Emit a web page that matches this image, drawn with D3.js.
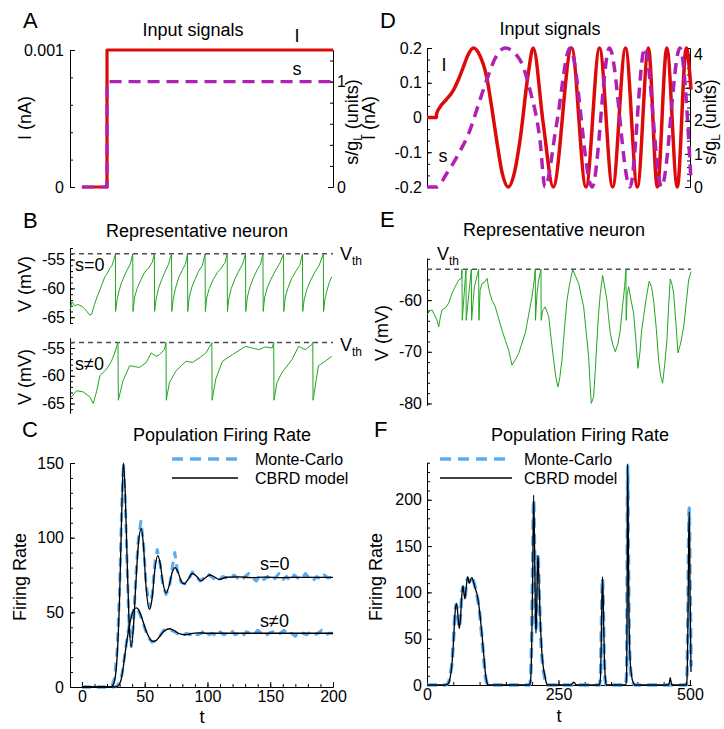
<!DOCTYPE html>
<html>
<head>
<meta charset="utf-8">
<script src="https://cdn.jsdelivr.net/npm/d3@7"></script>
<style>
  body { margin: 0; background: #fff; }
  svg text { font-family: "Liberation Sans", Arial, Helvetica, sans-serif; fill: #000; }
</style>
</head>
<body>
<svg id="fig" width="724" height="729"></svg>
<script>
// ---------------- data ----------------
// A: step input
const stepT = [0, 20, 20, 200];
const stepI = [0, 0, 0.001, 0.001];
const stepS = [0, 0, 1, 1];

// D: chirp input, [t, value]
const chirpI = [[0,0],[18,0],[18.1,0.01],[24.7,0.03],[37,0.052],[50,0.078],[60,0.11],[69,0.145],[78,0.18],[88,0.2],
  [100,0.18],[113.5,0.116],[123,0.03],[132.5,-0.066],[143,-0.16],[154.6,-0.2],[166,-0.16],[176.8,-0.066],[192.6,0.127],
  [202,0.2],[221,-0.017],[240,-0.2],[275,0.2],[302.3,-0.2],[328,0.2],[353,-0.2],[377.5,0.2],[400,-0.2],[421,0.2],
  [438,-0.2],[456,0.2],[476,-0.2],[493,0.2],[502,0.08]];
const chirpS = [[0,0],[18.4,0],[37.5,0.41],[60,1.0],[81.7,1.72],[100,2.6],[113.5,3.23],[130,3.9],[148.3,4.2],
  [176.8,3.84],[195.8,2.93],[214.8,1.42],[224.3,0],[246.6,1.92],[272,4.2],[314,0],[347,4.2],[386,0],[414,4.2],
  [446,0],[481,4.2],[502,0.2]];

// B: representative neuron, step input, [t, V]
const neuronS0 = [[-9.5,-63.8],[-8,-62.3],[-6,-63],[-3,-62.8],[0,-63.1],[2,-63.5],[4,-64],[6,-64.6],[7.7,-64.5],[10,-62.8],
  [12,-61.5],[14.3,-60.3],[16,-59.3],[18.2,-58],[20,-57.5],[22.2,-56.5],[24,-56],[25.5,-55],[26.7,-54],
  [26.8,-64],[28,-62],[29.5,-60.5],[31.5,-59],[33.5,-58],[36,-56.8],[38.5,-55.8],[40.5,-54],
  [40.7,-64],[42,-61.5],[44,-60],[47,-58.5],[50,-57.2],[53,-56.5],[56,-55.5],[57.7,-54],
  [57.9,-64],[59,-62],[61,-60],[63.5,-58.5],[66,-57.2],[69,-55.8],[71.4,-54],
  [71.6,-64],[72.8,-61.8],[74.5,-60],[77,-58.2],[80,-56.8],[82.5,-55.8],[84.1,-54],
  [84.3,-64],[85.5,-61.5],[87.5,-59.8],[90,-58.5],[93,-57],[96,-56],[98.1,-54],
  [98.3,-64],[99.5,-61.5],[101.5,-60],[104.5,-58.5],[108,-57.2],[111,-56.5],[114,-55.5],[115.7,-54],
  [115.9,-64],[117,-61.8],[119,-60],[122,-58.3],[125,-57],[128,-55.8],[130.3,-54],
  [130.5,-64],[131.8,-61.5],[133.8,-59.8],[136.5,-58.2],[139.5,-56.8],[142.3,-55.8],[144.2,-54],
  [144.4,-64],[145.6,-61.5],[147.8,-59.8],[151,-58.2],[154.5,-56.8],[158,-55.5],[160.6,-54],
  [160.8,-64],[162,-61.5],[164,-60],[167,-58.3],[170.5,-57],[173.5,-56],[175.7,-54],
  [175.9,-64],[177,-62],[179,-60.3],[182,-58.7],[185.5,-57.2],[189,-56],[192.3,-54],
  [192.5,-64],[193.5,-62],[195,-60.5],[197,-59],[199,-58]];
const neuronSn = [[-9.5,-64.1],[-4.2,-62.7],[1,-62.9],[6.3,-63.8],[9,-65],[11.6,-62.9],[14.3,-60],[19.6,-58.8],
  [23.5,-57.4],[26.1,-55.9],[28.7,-54],[29,-64.4],[32.7,-60.9],[38,-58.2],[45.9,-58.5],[51.2,-57.6],[55.2,-55.9],
  [59.1,-56.5],[61.8,-56.2],[65.7,-55.3],[67,-54],[67.2,-64.4],[69.7,-61.2],[75,-59.1],[82.9,-57.4],[88.1,-57.6],
  [93.4,-56.8],[98.7,-55.9],[102.7,-54.4],[103.5,-54],[103.7,-64.4],[106.6,-60.6],[111.9,-57.4],[119.8,-56.2],
  [130.4,-54.7],[135.6,-55],[140.9,-55.3],[146.2,-54.8],[151.5,-55],[152.8,-54],[153,-64.4],[155.4,-61.2],
  [159.4,-59.4],[167.3,-57.1],[172.6,-54.7],[177.9,-55.3],[183.1,-54.4],[183.9,-54],[184.1,-64.4],[188.4,-58.2],
  [193.7,-57.4],[199,-56.5]];

// E: representative neuron, chirp input
const neuronChirp = [[0,-62.9],[4,-62.2],[9.5,-61.9],[14,-62.8],[19,-63.9],[22.2,-65.2],[25,-63.5],[28.5,-61.9],
  [35,-61.5],[41.2,-60.6],[47.5,-58.7],[54,-57.3],[60.2,-56.1],[65.3,-55.8],[66.5,-54],[67,-63.9],[74.1,-54],
  [74.6,-63.9],[84.3,-54],[84.8,-63.9],[90,-57.5],[98.2,-54],[98.7,-63.9],[101,-58],[104.6,-56.8],[110,-56.5],
  [114.1,-55.8],[119,-58.5],[123.6,-60],[129.9,-61.3],[136,-63.5],[142.6,-65.8],[149,-67.8],[155.3,-69.7],
  [161.6,-72.6],[168,-71.5],[174.3,-70.3],[180,-68.5],[186.9,-66.4],[193,-63],[199.6,-59.4],[204.7,-55.5],
  [205.9,-54],[206.3,-63.9],[209,-59],[212.3,-56.1],[216.7,-54],[217.1,-63.9],[220,-62],[224.9,-61.3],
  [231.4,-63.2],[236,-67.5],[240.9,-71.6],[245,-75],[249,-76.8],[252.5,-75],[256.7,-71.6],[261,-66],[266.2,-60],
  [271,-57],[277,-54.1],[283,-55.5],[288.4,-56.8],[293,-59],[297.9,-61.3],[302,-65.5],[307.4,-71],[310,-76],
  [312.4,-80],[316.9,-78.7],[320,-73.5],[323.2,-67.7],[326,-63],[329.5,-58.7],[334,-55.2],[338,-57.5],[342.2,-60],
  [345,-63],[348.5,-66.4],[353,-68.5],[358,-70],[363,-68.5],[367.5,-65.8],[371.5,-61.5],[375.8,-57.4],[378.3,-54],
  [378.8,-63.9],[380.5,-59],[383.5,-57.4],[388,-60],[393,-62.6],[397,-67.5],[401.1,-73.2],[405,-70],[408,-66],
  [411.9,-63.2],[417,-59.5],[422.6,-56.3],[427,-57.5],[430.9,-60],[436,-65.5],[440.4,-71.6],[444,-74.5],
  [448,-76.1],[452,-72.5],[456.3,-67.7],[459.5,-61],[462.6,-55.9],[466,-57],[469,-58.7],[473,-64],[477.2,-70.2],
  [482,-68.5],[488,-65.2],[493,-60.5],[497.5,-56.1],[502,-54.5]];
const vTh = -54;

// C: population firing rate, step input
const rateS0Cbrd = [[0,0],[22,0],[24,0.5],[26,4],[28,20],[30,60],[31.5,110],[33,150],[34.5,130],[36,85],[37.5,45],
  [39.3,27],[41,40],[43,70],[45,96],[47.2,106],[49,95],[51,68],[53.8,52],[56,60],[58,78],[60.4,88],[62.5,82],
  [64.5,70],[67,63],[69.5,68],[72,77],[74.2,80],[76.5,77],[79,71],[81.5,69],[84.5,72],[88,76],[91.5,74],[94.8,71],
  [98,73],[101.9,75],[105,74],[109.3,72],[115,73.5],[125,73.8],[135,73.2],[145,73.6],[160,73.3],[175,73.4],[200,73.4]];
const rateS0Mc = [[0,0],[22,0],[24,1],[26,6],[28,24],[30,65],[31.5,115],[33,150],[34.5,125],[36,80],[37.5,42],
  [39.3,27],[41,42],[43,75],[45,100],[47,111],[49,97],[51,70],[53.8,53],[56,62],[58,82],[60,92],[62,84],[64.5,68],
  [67,62],[69.5,66],[72,80],[74,90],[76,78],[79,70],[82,69],[85,72],[88,77],[91,74],[94,71],[97,73],[100,76],
  [103,74],[106,72],[109,71],[112,74],[115,73],[118,72],[121,75],[124,73],[127,71],[130,74],[133,76],[136,73],
  [139,71],[142,75],[145,72],[148,74],[151,71],[154,73],[157,76],[160,72],[163,74],[166,71],[169,75],[172,73],
  [175,72],[178,76],[181,73],[184,71],[187,74],[190,72],[193,75],[196,73],[200,74]];
const rateSnCbrd = [[0,0],[26,0],[28,0.3],[30,2],[32,8],[34,20],[36,32],[38,42],[40,49],[41.5,52],[43.3,53],[45,52],
  [47,48],[49,43],[51,38],[53,34],[56.4,30.5],[59,31],[62,34],[65,37],[69.7,39],[73,38],[77,36],[81.5,35],
  [86,35.5],[92,36.3],[100,36],[120,36],[140,36],[160,36],[180,36],[200,36]];
const rateSnMc = [[0,0],[26,0],[28,1],[30,3],[32,9],[34,21],[36,33],[38,43],[40,49],[41.5,52],[43.3,53],[45,51],
  [47,47],[49,42],[51,37],[53,33],[56,30],[59,31],[62,34],[65,38],[68,39],[71,38],[74,37],[77,35],[80,34],[83,36],
  [86,35],[89,37],[92,35],[95,36],[98,38],[101,35],[104,36],[107,34],[110,37],[113,35],[116,36],[119,38],[122,35],
  [125,36],[128,34],[131,37],[134,36],[137,35],[140,38],[143,36],[146,34],[149,36],[152,37],[155,35],[158,36],
  [161,38],[164,35],[167,36],[170,34],[173,37],[176,36],[179,35],[182,37],[185,35],[188,36],[191,38],[194,35],
  [197,36],[200,36]];

// F: population firing rate, chirp input
const rateChirpCbrd = [[0,0],[35,0],[38,0.5],[41,2],[44,8],[47,20],[50.7,50],[53,75],[55.8,88],[58,80],[61.5,61],
  [64,75],[66,95],[68.4,107],[70,100],[72.2,93],[74.5,105],[77.3,117],[80.5,110],[83,114],[85.6,116],[88,112],
  [91.9,104],[95,98],[98.2,88],[101.5,72],[104.6,54],[108,32],[110.9,13.5],[113.5,4],[116,0],[195,0],[197,5],
  [199,40],[201,120],[202.8,205],[204.5,150],[206,80],[207.2,56],[208.5,80],[210,125],[211,140],[212.5,120],
  [215,75],[218.6,34],[221,20],[225,7.5],[227,2],[230,0],[274,0],[277,2],[279,3],[281,2],[284,0],[328,0],[330,10],
  [332,70],[333.7,117],[335.5,80],[337,35],[339,8],[341,0],[378,0],[379.6,10],[380.7,120],[381.5,239],[382.5,180],
  [384,80],[386,30],[389,10],[392,3],[395,0],[459,0],[461,3],[462.6,8],[464.5,2],[466,0],[493,0],[494.3,5],
  [496,60],[497.5,150],[498.7,187],[500,110],[501.5,40],[502,14]];
const rateChirpMc = [[0,0],[35,0],[38,1],[41,3],[44,10],[47,22],[50.7,52],[53,76],[55.8,87],[58,79],[61.5,62],
  [64,77],[66,96],[68.4,106],[70,101],[72.2,95],[74.5,106],[77.3,115],[80.5,111],[83,115],[85.6,117],[88,113],
  [91.9,105],[95,97],[98.2,86],[101.5,70],[104.6,50],[108,28],[110.9,10],[113.5,3],[116,0],[195,0],[197,8],
  [199,50],[201,130],[202.8,200],[204.5,145],[206,78],[207.2,60],[208.5,85],[210,130],[211,142],[212.5,118],
  [215,72],[218.6,30],[221,17],[225,5],[228,0],[328,0],[330,14],[332,75],[333.7,115],[335.5,75],[337,30],[339,5],
  [341,0],[378,0],[379.6,15],[380.7,130],[381.5,236],[382.5,175],[384,75],[386,25],[389,8],[392,2],[395,0],
  [493,0],[494.3,8],[496,70],[497.5,160],[498.7,191],[500,120],[501.5,50],[502,20]];

// tick labels
const ticksAI = [0, 0.001], ticksAS = [0, 1];
const ticksDI = [-0.2, -0.1, 0, 0.1, 0.2], ticksDS = [0, 1, 2, 3, 4];
const ticksBV = [-65, -60, -55], ticksEV = [-80, -70, -60];
const ticksCt = [0, 50, 100, 150, 200], ticksCr = [0, 50, 100, 150];
const ticksFt = [0, 250, 500], ticksFr = [0, 50, 100, 150, 200];

// ---------------- colours ----------------
const RED = '#dd0a0a', MAG = '#b020b4', GREEN = '#22a522', BLUE = '#5aacf2', GREY = '#505050';

const svg = d3.select('#fig');

function vAxis(x, y, majors, minors, side, pad) {
  const mk = side === 'left' ? d3.axisLeft : d3.axisRight;
  svg.append('g').attr('transform', `translate(${x},0)`)
    .call(mk(y).tickValues(minors).tickSize(-3).tickSizeOuter(0).tickFormat(''));
  svg.append('g').attr('transform', `translate(${x},0)`)
    .call(mk(y).tickValues(majors).tickSize(-5).tickSizeOuter(0).tickPadding(pad).tickFormat(d => String(d)))
    .attr('font-family', null).attr('font-size', 16);
}

function hAxis(yPos, x, majors, minors) {
  svg.append('g').attr('transform', `translate(0,${yPos})`)
    .call(d3.axisBottom(x).tickValues(minors).tickSize(-3).tickSizeOuter(0).tickFormat(''));
  svg.append('g').attr('transform', `translate(0,${yPos})`)
    .call(d3.axisBottom(x).tickValues(majors).tickSize(-5).tickSizeOuter(0).tickPadding(4).tickFormat(d => String(d)))
    .attr('font-family', null).attr('font-size', 16);
}

function curve(data, x, y, color, width, dash, c) {
  svg.append('path').datum(data)
    .attr('fill', 'none').attr('stroke', color).attr('stroke-width', width)
    .attr('stroke-dasharray', dash || null).attr('stroke-linejoin', 'round')
    .attr('d', d3.line().x(d => x(d[0])).y(d => y(d[1])).curve(c || d3.curveLinear));
}

function txt(x, y, s, size, anchor) {
  return svg.append('text').attr('x', x).attr('y', y).attr('font-size', size)
    .attr('text-anchor', anchor || 'start').text(s);
}

function vtxt(x, y, s, size) {
  return svg.append('text').attr('transform', `translate(${x},${y}) rotate(-90)`)
    .attr('font-size', size).attr('text-anchor', 'middle').text(s);
}

function sgLabel(x, y) {
  const t = svg.append('text').attr('transform', `translate(${x},${y}) rotate(-90)`)
    .attr('font-size', 18).attr('text-anchor', 'middle');
  t.append('tspan').text('s/g');
  t.append('tspan').attr('font-size', 12).attr('dy', 4).text('L');
  t.append('tspan').attr('dy', -4).text(' (units)');
}

function vthLabel(x, y) {
  const t = svg.append('text').attr('x', x).attr('y', y).attr('font-size', 18);
  t.append('tspan').text('V');
  t.append('tspan').attr('font-size', 12).attr('dy', 5).text('th');
}

function threshold(x, y, x0, x1) {
  svg.append('line').attr('x1', x(x0)).attr('x2', x(x1)).attr('y1', y(vTh)).attr('y2', y(vTh))
    .attr('stroke', GREY).attr('stroke-width', 1.5).attr('stroke-dasharray', '5,4');
}

function legend(x0, x1, xt) {
  svg.append('line').attr('x1', x0).attr('x2', x1).attr('y1', 459).attr('y2', 459)
    .attr('stroke', BLUE).attr('stroke-width', 3.5).attr('stroke-dasharray', '11,7');
  svg.append('line').attr('x1', x0).attr('x2', x1).attr('y1', 478).attr('y2', 478)
    .attr('stroke', '#000').attr('stroke-width', 1.3);
  txt(xt, 465, 'Monte-Carlo', 16);
  txt(xt, 484, 'CBRD model', 16);
}

// ---------------- left column ----------------
const xL = d3.scaleLinear().domain([-9.5, 200]).range([70, 333]);

// A
const yAI = d3.scaleLinear().domain([0, 0.001]).range([187, 50]);
const yAS = d3.scaleLinear().domain([0, 1.3]).range([187, 50]);
vAxis(70, yAI, ticksAI, d3.range(0, 0.00101, 0.0002), 'left', 6);
vAxis(333, yAS, ticksAS, d3.range(0, 1.21, 0.2), 'right', 4);
curve(d3.zip(stepT, stepI), xL, yAI, RED, 3.2);
curve(d3.zip(stepT, stepS), xL, yAS, MAG, 3.2, '12,7');
txt(23, 28, 'A', 22);
txt(193, 36, 'Input signals', 18, 'middle');
txt(297, 42, 'I', 18, 'middle');
txt(297, 75, 's', 18, 'middle');
vtxt(31, 118, 'I (nA)', 18);
sgLabel(358, 122);

// B
const yB1 = d3.scaleLinear().domain([-66, -53]).range([323, 248]);
const yB2 = d3.scaleLinear().domain([-66.7, -53.2]).range([413, 338]);
vAxis(70, yB1, ticksBV, d3.range(-66, -52.9, 1), 'left', 5);
vAxis(70, yB2, ticksBV, d3.range(-66, -53.1, 1), 'left', 5);
threshold(xL, yB1, -9.5, 200);
threshold(xL, yB2, -9.5, 200);
curve(neuronS0, xL, yB1, GREEN, 1);
curve(neuronSn, xL, yB2, GREEN, 1);
txt(23, 228, 'B', 22);
txt(197, 237, 'Representative neuron', 18, 'middle');
txt(75, 271, 's=0', 18);
txt(75, 370, 's\u22600', 18);
vthLabel(340, 260);
vthLabel(340, 351);
vtxt(31, 284, 'V (mV)', 18);
vtxt(31, 377, 'V (mV)', 18);

// C
const yC = d3.scaleLinear().domain([0, 150]).range([687, 463]);
vAxis(70, yC, ticksCr, d3.range(0, 151, 10), 'left', 6);
hAxis(687, xL, ticksCt, d3.range(-0, 201, 10));
curve(rateS0Mc, xL, yC, BLUE, 3, '9,6');
curve(rateSnMc, xL, yC, BLUE, 3, '9,6');
curve(rateS0Cbrd, xL, yC, '#000', 1.3, null, d3.curveMonotoneX);
curve(rateSnCbrd, xL, yC, '#000', 1.3, null, d3.curveMonotoneX);
legend(172, 238, 255);
txt(22, 437, 'C', 22);
txt(222, 441, 'Population Firing Rate', 18, 'middle');
txt(260, 570, 's=0', 18);
txt(260, 627, 's\u22600', 18);
txt(202, 723, 't', 18, 'middle');
vtxt(26, 577, 'Firing Rate', 18);

// ---------------- right column ----------------
const xR = d3.scaleLinear().domain([0, 502]).range([427, 691]);

// D
const yDI = d3.scaleLinear().domain([-0.2, 0.2]).range([187, 48]);
const yDS = d3.scaleLinear().domain([0, 4.2]).range([187, 48]);
vAxis(427, yDI, ticksDI, d3.range(-6, 7).map(i => i * 0.2 / 6), 'left', 5);
vAxis(690, yDS, ticksDS, d3.range(0, 4.21, 0.2), 'right', 4);
curve(chirpI, xR, yDI, RED, 3.5, null, d3.curveMonotoneX);
curve(chirpS, xR, yDS, MAG, 3.5, '11,7', d3.curveMonotoneX);
txt(380, 28, 'D', 22);
txt(550, 35, 'Input signals', 18, 'middle');
txt(444, 71, 'I', 18, 'middle');
txt(443, 162, 's', 18, 'middle');
vtxt(375, 118, 'I (nA)', 18);
sgLabel(716, 122);

// E
const yE = d3.scaleLinear().domain([-80.3, -51.9]).range([405, 258.3]);
vAxis(427, yE, ticksEV, d3.range(-80, -51.9, 2), 'left', 5);
threshold(xR, yE, 0, 502);
curve(neuronChirp, xR, yE, GREEN, 1);
txt(380, 227, 'E', 22);
txt(554, 236, 'Representative neuron', 18, 'middle');
vthLabel(437, 260);
vtxt(388, 333, 'V (mV)', 18);

// F
const yF = d3.scaleLinear().domain([0, 240]).range([685, 462.7]);
vAxis(427, yF, ticksFr, d3.range(0, 241, 10), 'left', 5);
hAxis(685, xR, ticksFt, d3.range(0, 501, 50));
curve(rateChirpMc, xR, yF, BLUE, 3.5, '10,6', d3.curveMonotoneX);
curve(rateChirpCbrd, xR, yF, '#000', 1.3, null, d3.curveMonotoneX);
legend(440, 512, 524);
txt(374, 437, 'F', 22);
txt(580, 441, 'Population Firing Rate', 18, 'middle');
txt(559, 722, 't', 18, 'middle');
vtxt(382, 577, 'Firing Rate', 18);
</script>
</body>
</html>
